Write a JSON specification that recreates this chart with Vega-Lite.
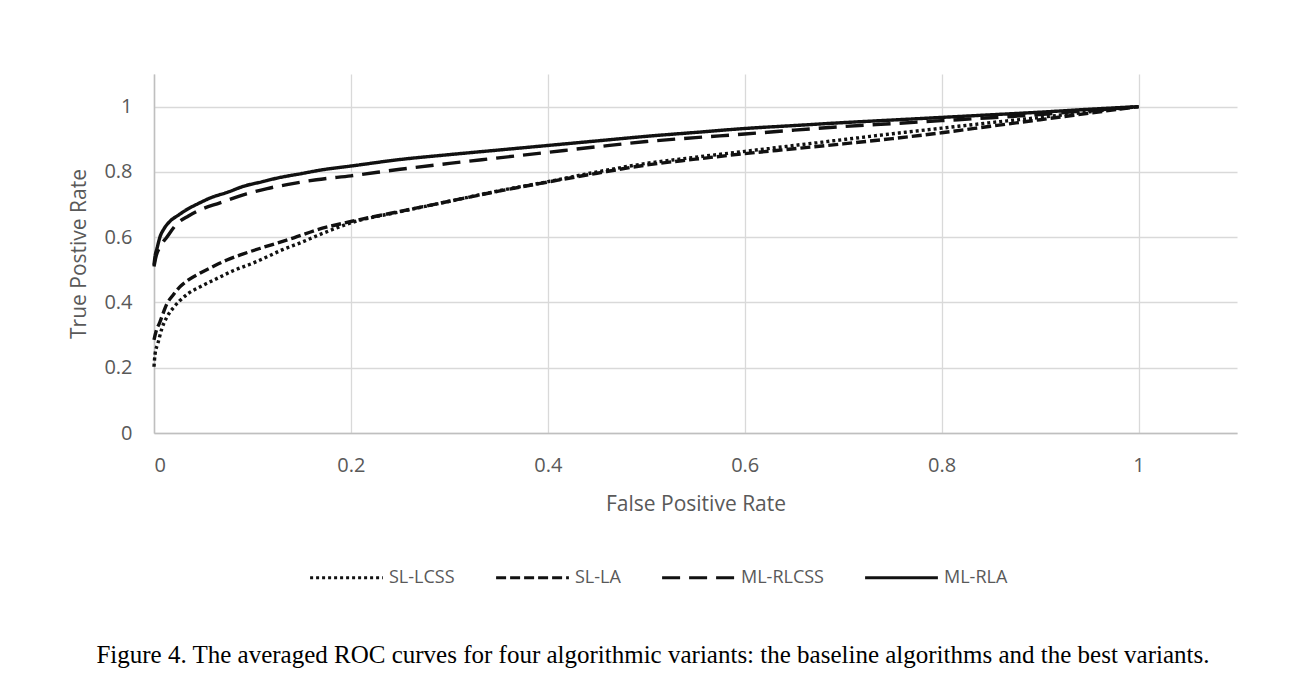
{
  "$schema": "https://vega.github.io/schema/vega-lite/v6.json",
  "width": 1083,
  "height": 359,
  "autosize": {"type": "none"},
  "padding": {"left": 154, "top": 74, "right": 63, "bottom": 249},
  "background": "white",
  "title": {
    "text": "Figure 4. The averaged ROC curves for four algorithmic variants: the baseline algorithms and the best variants.",
    "orient": "bottom",
    "anchor": "middle",
    "frame": "bounds",
    "font": "Liberation Serif",
    "fontSize": 25,
    "fontWeight": "normal",
    "color": "#000000",
    "offset": 56
  },
  "data": {
    "values": [
      {"series": "ML-RLA", "fpr": 0, "tpr": 0.515},
      {"series": "ML-RLA", "fpr": 0.001, "tpr": 0.54},
      {"series": "ML-RLA", "fpr": 0.003, "tpr": 0.565},
      {"series": "ML-RLA", "fpr": 0.006, "tpr": 0.6},
      {"series": "ML-RLA", "fpr": 0.01, "tpr": 0.625},
      {"series": "ML-RLA", "fpr": 0.016, "tpr": 0.648},
      {"series": "ML-RLA", "fpr": 0.025, "tpr": 0.668},
      {"series": "ML-RLA", "fpr": 0.033, "tpr": 0.684},
      {"series": "ML-RLA", "fpr": 0.045, "tpr": 0.703},
      {"series": "ML-RLA", "fpr": 0.057, "tpr": 0.72},
      {"series": "ML-RLA", "fpr": 0.075, "tpr": 0.738},
      {"series": "ML-RLA", "fpr": 0.091, "tpr": 0.756},
      {"series": "ML-RLA", "fpr": 0.11, "tpr": 0.77},
      {"series": "ML-RLA", "fpr": 0.125, "tpr": 0.781},
      {"series": "ML-RLA", "fpr": 0.15, "tpr": 0.795},
      {"series": "ML-RLA", "fpr": 0.17, "tpr": 0.806},
      {"series": "ML-RLA", "fpr": 0.2, "tpr": 0.818},
      {"series": "ML-RLA", "fpr": 0.25, "tpr": 0.838},
      {"series": "ML-RLA", "fpr": 0.3, "tpr": 0.853},
      {"series": "ML-RLA", "fpr": 0.35, "tpr": 0.867},
      {"series": "ML-RLA", "fpr": 0.4, "tpr": 0.881},
      {"series": "ML-RLA", "fpr": 0.45, "tpr": 0.895},
      {"series": "ML-RLA", "fpr": 0.5, "tpr": 0.909},
      {"series": "ML-RLA", "fpr": 0.55, "tpr": 0.921},
      {"series": "ML-RLA", "fpr": 0.6, "tpr": 0.933},
      {"series": "ML-RLA", "fpr": 0.65, "tpr": 0.942},
      {"series": "ML-RLA", "fpr": 0.7, "tpr": 0.951},
      {"series": "ML-RLA", "fpr": 0.75, "tpr": 0.959},
      {"series": "ML-RLA", "fpr": 0.8, "tpr": 0.967},
      {"series": "ML-RLA", "fpr": 0.85, "tpr": 0.975},
      {"series": "ML-RLA", "fpr": 0.9, "tpr": 0.983},
      {"series": "ML-RLA", "fpr": 0.95, "tpr": 0.992},
      {"series": "ML-RLA", "fpr": 1, "tpr": 1},

      {"series": "ML-RLCSS", "fpr": 0, "tpr": 0.51},
      {"series": "ML-RLCSS", "fpr": 0.002, "tpr": 0.54},
      {"series": "ML-RLCSS", "fpr": 0.006, "tpr": 0.57},
      {"series": "ML-RLCSS", "fpr": 0.013, "tpr": 0.6},
      {"series": "ML-RLCSS", "fpr": 0.023, "tpr": 0.64},
      {"series": "ML-RLCSS", "fpr": 0.035, "tpr": 0.665},
      {"series": "ML-RLCSS", "fpr": 0.047, "tpr": 0.684},
      {"series": "ML-RLCSS", "fpr": 0.067, "tpr": 0.705},
      {"series": "ML-RLCSS", "fpr": 0.094, "tpr": 0.733},
      {"series": "ML-RLCSS", "fpr": 0.115, "tpr": 0.749},
      {"series": "ML-RLCSS", "fpr": 0.135, "tpr": 0.761},
      {"series": "ML-RLCSS", "fpr": 0.165, "tpr": 0.776},
      {"series": "ML-RLCSS", "fpr": 0.2, "tpr": 0.788},
      {"series": "ML-RLCSS", "fpr": 0.25, "tpr": 0.808},
      {"series": "ML-RLCSS", "fpr": 0.3, "tpr": 0.826},
      {"series": "ML-RLCSS", "fpr": 0.35, "tpr": 0.843},
      {"series": "ML-RLCSS", "fpr": 0.4, "tpr": 0.86},
      {"series": "ML-RLCSS", "fpr": 0.45, "tpr": 0.877},
      {"series": "ML-RLCSS", "fpr": 0.5, "tpr": 0.893},
      {"series": "ML-RLCSS", "fpr": 0.55, "tpr": 0.905},
      {"series": "ML-RLCSS", "fpr": 0.6, "tpr": 0.916},
      {"series": "ML-RLCSS", "fpr": 0.65, "tpr": 0.928},
      {"series": "ML-RLCSS", "fpr": 0.7, "tpr": 0.939},
      {"series": "ML-RLCSS", "fpr": 0.75, "tpr": 0.948},
      {"series": "ML-RLCSS", "fpr": 0.8, "tpr": 0.957},
      {"series": "ML-RLCSS", "fpr": 0.85, "tpr": 0.966},
      {"series": "ML-RLCSS", "fpr": 0.9, "tpr": 0.976},
      {"series": "ML-RLCSS", "fpr": 0.95, "tpr": 0.988},
      {"series": "ML-RLCSS", "fpr": 1, "tpr": 1},

      {"series": "SL-LA", "fpr": 0, "tpr": 0.285},
      {"series": "SL-LA", "fpr": 0.002, "tpr": 0.31},
      {"series": "SL-LA", "fpr": 0.006, "tpr": 0.34},
      {"series": "SL-LA", "fpr": 0.013, "tpr": 0.395},
      {"series": "SL-LA", "fpr": 0.02, "tpr": 0.425},
      {"series": "SL-LA", "fpr": 0.026, "tpr": 0.447},
      {"series": "SL-LA", "fpr": 0.035, "tpr": 0.469},
      {"series": "SL-LA", "fpr": 0.047, "tpr": 0.49},
      {"series": "SL-LA", "fpr": 0.06, "tpr": 0.51},
      {"series": "SL-LA", "fpr": 0.074, "tpr": 0.53},
      {"series": "SL-LA", "fpr": 0.09, "tpr": 0.548},
      {"series": "SL-LA", "fpr": 0.108, "tpr": 0.566},
      {"series": "SL-LA", "fpr": 0.125, "tpr": 0.582},
      {"series": "SL-LA", "fpr": 0.142, "tpr": 0.598},
      {"series": "SL-LA", "fpr": 0.165, "tpr": 0.622},
      {"series": "SL-LA", "fpr": 0.2, "tpr": 0.648},
      {"series": "SL-LA", "fpr": 0.25, "tpr": 0.679},
      {"series": "SL-LA", "fpr": 0.3, "tpr": 0.71},
      {"series": "SL-LA", "fpr": 0.35, "tpr": 0.741},
      {"series": "SL-LA", "fpr": 0.4, "tpr": 0.769},
      {"series": "SL-LA", "fpr": 0.45, "tpr": 0.796},
      {"series": "SL-LA", "fpr": 0.5, "tpr": 0.821},
      {"series": "SL-LA", "fpr": 0.55, "tpr": 0.839},
      {"series": "SL-LA", "fpr": 0.6, "tpr": 0.856},
      {"series": "SL-LA", "fpr": 0.65, "tpr": 0.871},
      {"series": "SL-LA", "fpr": 0.7, "tpr": 0.886},
      {"series": "SL-LA", "fpr": 0.75, "tpr": 0.902},
      {"series": "SL-LA", "fpr": 0.8, "tpr": 0.92},
      {"series": "SL-LA", "fpr": 0.85, "tpr": 0.94},
      {"series": "SL-LA", "fpr": 0.9, "tpr": 0.96},
      {"series": "SL-LA", "fpr": 0.95, "tpr": 0.98},
      {"series": "SL-LA", "fpr": 1, "tpr": 1},

      {"series": "SL-LCSS", "fpr": 0, "tpr": 0.203},
      {"series": "SL-LCSS", "fpr": 0.001, "tpr": 0.24},
      {"series": "SL-LCSS", "fpr": 0.004, "tpr": 0.275},
      {"series": "SL-LCSS", "fpr": 0.008, "tpr": 0.32},
      {"series": "SL-LCSS", "fpr": 0.013, "tpr": 0.355},
      {"series": "SL-LCSS", "fpr": 0.02, "tpr": 0.385},
      {"series": "SL-LCSS", "fpr": 0.026, "tpr": 0.405},
      {"series": "SL-LCSS", "fpr": 0.035, "tpr": 0.428},
      {"series": "SL-LCSS", "fpr": 0.047, "tpr": 0.448},
      {"series": "SL-LCSS", "fpr": 0.065, "tpr": 0.475},
      {"series": "SL-LCSS", "fpr": 0.081, "tpr": 0.498},
      {"series": "SL-LCSS", "fpr": 0.1, "tpr": 0.52},
      {"series": "SL-LCSS", "fpr": 0.115, "tpr": 0.54},
      {"series": "SL-LCSS", "fpr": 0.13, "tpr": 0.561},
      {"series": "SL-LCSS", "fpr": 0.148, "tpr": 0.582},
      {"series": "SL-LCSS", "fpr": 0.17, "tpr": 0.61},
      {"series": "SL-LCSS", "fpr": 0.2, "tpr": 0.644},
      {"series": "SL-LCSS", "fpr": 0.25, "tpr": 0.678},
      {"series": "SL-LCSS", "fpr": 0.3, "tpr": 0.71},
      {"series": "SL-LCSS", "fpr": 0.35, "tpr": 0.742},
      {"series": "SL-LCSS", "fpr": 0.4, "tpr": 0.77},
      {"series": "SL-LCSS", "fpr": 0.45, "tpr": 0.8},
      {"series": "SL-LCSS", "fpr": 0.5, "tpr": 0.826},
      {"series": "SL-LCSS", "fpr": 0.55, "tpr": 0.845},
      {"series": "SL-LCSS", "fpr": 0.6, "tpr": 0.863},
      {"series": "SL-LCSS", "fpr": 0.65, "tpr": 0.881},
      {"series": "SL-LCSS", "fpr": 0.7, "tpr": 0.899},
      {"series": "SL-LCSS", "fpr": 0.75, "tpr": 0.917},
      {"series": "SL-LCSS", "fpr": 0.8, "tpr": 0.934},
      {"series": "SL-LCSS", "fpr": 0.85, "tpr": 0.951},
      {"series": "SL-LCSS", "fpr": 0.9, "tpr": 0.967},
      {"series": "SL-LCSS", "fpr": 0.95, "tpr": 0.984},
      {"series": "SL-LCSS", "fpr": 1, "tpr": 1}
    ]
  },
  "mark": {"type": "line", "color": "#111111", "strokeWidth": 3.4, "interpolate": "monotone"},
  "encoding": {
    "x": {
      "field": "fpr",
      "type": "quantitative",
      "scale": {"domain": [0, 1.1], "nice": false, "zero": false},
      "axis": {
        "values": [0, 0.2, 0.4, 0.6, 0.8, 1],
        "format": "~g",
        "title": "False Positive Rate",
        "labelPadding": 22,
        "titlePadding": 18
      }
    },
    "y": {
      "field": "tpr",
      "type": "quantitative",
      "scale": {"domain": [0, 1.1], "nice": false, "zero": false},
      "axis": {
        "values": [0, 0.2, 0.4, 0.6, 0.8, 1],
        "format": "~g",
        "title": "True Postive Rate",
        "labelPadding": 22,
        "titlePadding": 14
      }
    },
    "strokeDash": {
      "field": "series",
      "type": "nominal",
      "scale": {
        "domain": ["SL-LCSS", "SL-LA", "ML-RLCSS", "ML-RLA"],
        "range": [[3, 3], [10, 4], [18, 9], [1, 0]]
      },
      "legend": {
        "title": null,
        "orient": "none",
        "legendX": 154,
        "legendY": 465,
        "direction": "horizontal",
        "symbolType": "stroke",
        "symbolSize": 5300,
        "symbolStrokeWidth": 3.2,
        "symbolStrokeColor": "#111111",
        "labelFont": "Open Sans",
        "labelFontSize": 18,
        "labelColor": "#595959",
        "labelOffset": 4,
        "columnPadding": 34
      }
    }
  },
  "config": {
    "view": {"stroke": null},
    "axis": {
      "labelFont": "Open Sans",
      "labelFontSize": 20,
      "labelColor": "#595959",
      "titleFont": "Open Sans",
      "titleFontSize": 21,
      "titleFontWeight": "normal",
      "titleColor": "#595959",
      "gridColor": "#d9d9d9",
      "gridWidth": 1.3,
      "domainColor": "#bfbfbf",
      "domainWidth": 1.5,
      "ticks": false
    }
  }
}
